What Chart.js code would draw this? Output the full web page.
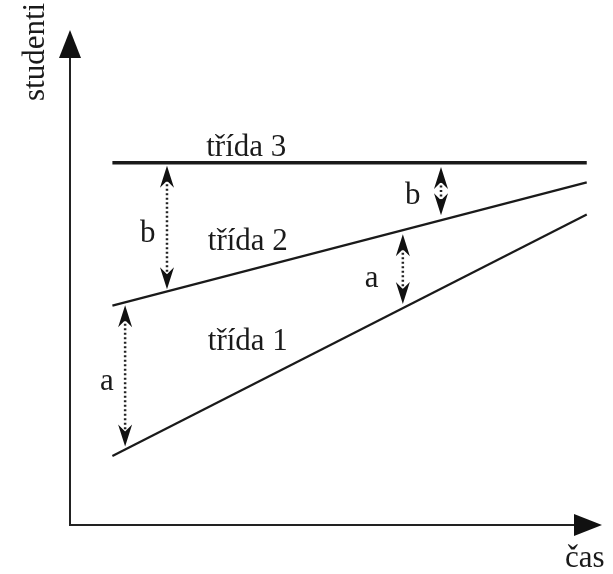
<!DOCTYPE html>
<html>
<head>
<meta charset="utf-8">
<script src="https://cdn.jsdelivr.net/npm/chart.js@4/dist/chart.umd.min.js"></script>
<style>
  html, body { margin: 0; padding: 0; background: #fff; }
  #wrap { width: 613px; height: 574px; }
</style>
</head>
<body>
<div id="wrap"><canvas id="chart" width="613" height="574"></canvas></div>
<script>
// line start/end along the time axis
var lineX = [8, 97.5];
var trida1 = [14, 63];
var trida2 = [44.5, 69.5];
var trida3 = [73.5, 73.5];
var lineNames = ['třída 1', 'třída 2', 'třída 3'];

// double arrows: x position, top value, bottom value, label
var arrowX = [18.3, 10.4, 62.8, 70];
var arrowTop = [73.5, 45.2, 59.6, 73.2];
var arrowBottom = [47.2, 15.3, 44.2, 62.2];
var arrowLabels = ['b', 'a', 'a', 'b'];

var axisTitles = ['čas', 'studenti'];

var FONT = '"Liberation Serif", "Times New Roman", serif';

function pts(ys) {
  return lineX.map(function(x, i) { return { x: x, y: ys[i] }; });
}

function arrowHead(ctx, x, y, dir) {
  // dir: -1 points up, 1 points down
  ctx.beginPath();
  ctx.moveTo(x, y);
  ctx.lineTo(x - 7, y - dir * 22);
  ctx.lineTo(x, y - dir * 15);
  ctx.lineTo(x + 7, y - dir * 22);
  ctx.closePath();
  ctx.fill();
}

var decorations = {
  id: 'decorations',
  afterDatasetsDraw: function(chart) {
    var ctx = chart.ctx;
    var xs = chart.scales.x, ys = chart.scales.y;
    var x0 = xs.getPixelForValue(0), y0 = ys.getPixelForValue(0);
    var xEnd = xs.getPixelForValue(xs.max), yEnd = ys.getPixelForValue(ys.max);
    ctx.save();
    ctx.strokeStyle = '#222';
    ctx.fillStyle = '#111';
    ctx.lineWidth = 2;
    // axes
    ctx.beginPath();
    ctx.moveTo(x0, y0 + 1);
    ctx.lineTo(x0, yEnd + 20);
    ctx.moveTo(x0 - 1, y0);
    ctx.lineTo(xEnd - 20, y0);
    ctx.stroke();
    ctx.beginPath();
    ctx.moveTo(x0, yEnd - 2);
    ctx.lineTo(x0 - 11, yEnd + 26);
    ctx.lineTo(x0 + 11, yEnd + 26);
    ctx.closePath();
    ctx.fill();
    ctx.beginPath();
    ctx.moveTo(xEnd + 2, y0);
    ctx.lineTo(xEnd - 26, y0 - 11);
    ctx.lineTo(xEnd - 26, y0 + 11);
    ctx.closePath();
    ctx.fill();

    // dotted double arrows
    for (var i = 0; i < arrowX.length; i++) {
      var px = xs.getPixelForValue(arrowX[i]);
      var pt = ys.getPixelForValue(arrowTop[i]) + 3;
      var pb = ys.getPixelForValue(arrowBottom[i]) - 3;
      ctx.save();
      ctx.setLineDash([2, 2.5]);
      ctx.lineWidth = 2.5;
      ctx.beginPath();
      ctx.moveTo(px, pt + 14);
      ctx.lineTo(px, pb - 14);
      ctx.stroke();
      ctx.restore();
      arrowHead(ctx, px, pt, -1);
      arrowHead(ctx, px, pb, 1);
    }

    ctx.fillStyle = '#1a1a1a';
    ctx.font = '31px ' + FONT;
    ctx.textBaseline = 'alphabetic';
    // line names
    var nameAt = [[26, 35.5], [26, 55.8], [25.7, 74.8]];
    lineNames.forEach(function(t, k) {
      ctx.fillText(t, xs.getPixelForValue(nameAt[k][0]), ys.getPixelForValue(nameAt[k][1]));
    });
    // arrow labels, offset in px from the arrow midpoint
    var labelOff = [[-27, 14.5], [-25, 14], [-38, 18], [-36, 13]];
    for (var j = 0; j < arrowX.length; j++) {
      var mid = (arrowTop[j] + arrowBottom[j]) / 2;
      ctx.fillText(arrowLabels[j], xs.getPixelForValue(arrowX[j]) + labelOff[j][0], ys.getPixelForValue(mid) + labelOff[j][1]);
    }
    // axis titles
    ctx.fillText(axisTitles[0], 565, 567);
    ctx.save();
    ctx.translate(44, 101);
    ctx.rotate(-Math.PI / 2);
    ctx.fillText(axisTitles[1], 0, 0);
    ctx.restore();
    ctx.restore();
  }
};

new Chart(document.getElementById('chart').getContext('2d'), {
  type: 'scatter',
  data: {
    datasets: [
      { label: lineNames[0], data: pts(trida1), showLine: true, borderColor: '#1a1a1a', borderWidth: 2.2, pointRadius: 0 },
      { label: lineNames[1], data: pts(trida2), showLine: true, borderColor: '#1a1a1a', borderWidth: 2.2, pointRadius: 0 },
      { label: lineNames[2], data: pts(trida3), showLine: true, borderColor: '#1a1a1a', borderWidth: 3.5, pointRadius: 0 }
    ]
  },
  options: {
    responsive: false,
    animation: false,
    layout: { padding: { left: 70, top: 32, right: 13, bottom: 49 } },
    plugins: { legend: { display: false }, tooltip: { enabled: false } },
    scales: {
      x: { type: 'linear', min: 0, max: 100, display: false },
      y: { type: 'linear', min: 0, max: 100, display: false }
    }
  },
  plugins: [decorations]
});
</script>
</body>
</html>
